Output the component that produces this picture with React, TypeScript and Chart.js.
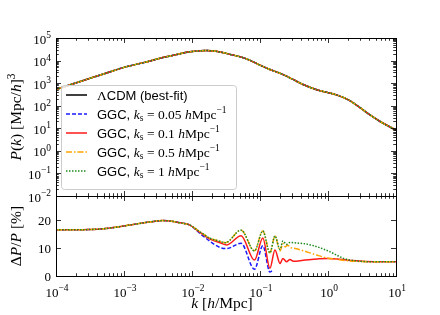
import React, { useEffect, useRef } from "react";
import { Chart, registerables } from "chart.js";
Chart.register(...registerables);

// ---------- data ----------
// Top panel: power spectrum P(k) [ (Mpc/h)^3 ]
const kTop = [1e-4, 2e-4, 5e-4, 1e-3, 2e-3, 3.5e-3, 5e-3, 7.4e-3, 0.01, 0.0166, 0.026, 0.04, 0.05, 0.07, 0.1, 0.14, 0.2, 0.3, 0.43, 0.7, 1.0, 1.36, 2, 3, 4.15, 6, 10];
const pLCDM = [520, 1050, 2550, 5000, 8300, 13000, 16500, 21600, 25000, 28000, 24000, 17500, 15000, 10500, 6300, 4000, 2700, 1500, 870, 500, 380, 295, 180, 80, 39, 19, 8.3];

// Bottom panel: Delta P / P [%]
const kCommon = [1e-4, 2e-4, 3e-4, 5e-4, 8e-4, 1.2e-3, 1.8e-3, 2.5e-3, 3.7e-3, 5e-3, 6.7e-3, 9.3e-3];
const dCommon = [16.5, 16.5, 16.6, 16.9, 17.5, 18.2, 18.9, 19.4, 19.8, 19.6, 19.0, 18.2];

const kBlue = [0.0131, 0.0184, 0.0258, 0.0325, 0.0526, 0.083, 0.11, 0.14, 0.15];
const dBlue = [15.2, 12.4, 10.2, 9.8, 11.7, 2.4, 10.8, 1.4, 1.8];

const kRed = [0.0131, 0.0184, 0.0258, 0.0325, 0.0526, 0.083, 0.11, 0.14, 0.166, 0.197, 0.217, 0.245, 0.276, 0.31, 0.43, 0.7, 1.0, 1.5, 2.3, 3.5, 10];
const dRed = [15.6, 13.2, 11.9, 11.1, 14.4, 5.7, 13.6, 2.8, 9.3, 4.5, 6.3, 5.1, 5.9, 5.3, 5.6, 6.1, 6.3, 6.0, 5.5, 5.2, 5.1];

const kOrange = [0.0131, 0.0184, 0.0258, 0.031, 0.0526, 0.083, 0.11, 0.14, 0.166, 0.197, 0.217, 0.235, 0.255, 0.28, 0.33, 0.48, 0.68, 0.95, 1.33, 1.87, 2.9, 4, 10];
const dOrange = [15.8, 13.5, 12.4, 11.9, 16.4, 9.0, 16.1, 8.3, 14.3, 9.0, 11.6, 10.4, 11.0, 10.2, 9.8, 8.7, 7.5, 6.5, 6.0, 5.5, 5.2, 5.1, 5.1];

const kGreen = [0.0131, 0.0184, 0.0258, 0.031, 0.0526, 0.083, 0.11, 0.14, 0.166, 0.197, 0.217, 0.245, 0.276, 0.31, 0.43, 0.6, 0.8, 1.06, 1.33, 1.65, 2.0, 2.9, 4, 10];
const dGreen = [15.8, 13.5, 12.4, 11.9, 16.4, 9.0, 16.1, 8.3, 14.3, 9.5, 12.5, 11.3, 12.0, 11.9, 11.6, 10.9, 9.9, 8.7, 7.5, 6.4, 5.8, 5.3, 5.1, 5.1];

const ksValues = ["0.05", "0.1", "0.5", "1"];

// ticks
const xMajor = [1e-4, 1e-3, 1e-2, 1e-1, 1, 10];
const xExp = ["\u22124", "\u22123", "\u22122", "\u22121", "0", "1"];
const yTopMajor = [1e-2, 1e-1, 1, 10, 100, 1e3, 1e4, 1e5];
const yTopExp = ["\u22122", "\u22121", "0", "1", "2", "3", "4", "5"];
const yBotTicks = [0, 10, 20];
const yBotMax = 28.6;

// ---------- helpers ----------
const SERIF = "'Liberation Serif', 'DejaVu Serif', serif";
const SANS = "'Liberation Sans', Arial, sans-serif";

type Seg = { t: string; f: string; dy?: number };

function drawRich(ctx: CanvasRenderingContext2D, segs: Seg[], x: number, y: number, align: "left" | "center" | "right") {
  let w = 0;
  for (const s of segs) { ctx.font = s.f; w += ctx.measureText(s.t).width; }
  let cx = align === "left" ? x : align === "center" ? x - w / 2 : x - w;
  ctx.textAlign = "left";
  ctx.textBaseline = "alphabetic";
  for (const s of segs) {
    ctx.font = s.f;
    ctx.fillText(s.t, cx, y + (s.dy || 0));
    cx += ctx.measureText(s.t).width;
  }
}

const pts = (ks: number[], vs: number[]) => ks.map((k, i) => ({ x: k, y: vs[i] }));

const COLORS = { lcdm: "#000000", blue: "#1a1aff", red: "#ff1a1a", orange: "#ffa500", green: "#1e8a1e" };
const DASH = { lcdm: [] as number[], blue: [4, 2], red: [] as number[], orange: [6, 2, 1.5, 2], green: [1.5, 1.5] };

function minorTicks(majors: number[], max: number) {
  const out: number[] = [];
  for (const d of majors) for (let m = 2; m <= 9; m++) { const v = d * m; if (v < max) out.push(v); }
  return out;
}

const decorPlugin = {
  id: "decor",
  afterDatasetsDraw(chart: any) {
    const ctx: CanvasRenderingContext2D = chart.ctx;
    // legend box
    ctx.save();
    const bx = 61.5, by = 85.5, bw = 175, bh = 104, r = 3;
    ctx.beginPath();
    ctx.moveTo(bx + r, by);
    ctx.lineTo(bx + bw - r, by);
    ctx.arcTo(bx + bw, by, bx + bw, by + r, r);
    ctx.lineTo(bx + bw, by + bh - r);
    ctx.arcTo(bx + bw, by + bh, bx + bw - r, by + bh, r);
    ctx.lineTo(bx + r, by + bh);
    ctx.arcTo(bx, by + bh, bx, by + bh - r, r);
    ctx.lineTo(bx, by + r);
    ctx.arcTo(bx, by, bx + r, by, r);
    ctx.closePath();
    ctx.fillStyle = "rgba(255,255,255,0.8)";
    ctx.fill();
    ctx.strokeStyle = "#cccccc";
    ctx.lineWidth = 1;
    ctx.stroke();

    const keys = ["lcdm", "blue", "red", "orange", "green"] as const;
    const fs = 13;
    for (let i = 0; i < keys.length; i++) {
      const yy = 95 + 19 * i;
      ctx.beginPath();
      ctx.setLineDash(DASH[keys[i]]);
      ctx.strokeStyle = (COLORS as any)[keys[i]];
      ctx.lineWidth = 1.5;
      ctx.moveTo(66, yy);
      ctx.lineTo(87, yy);
      ctx.stroke();
      ctx.setLineDash([]);
      ctx.fillStyle = "#000";
      const base = yy + 4.5;
      let segs: Seg[];
      if (i === 0) {
        segs = [
          { t: "\u039B", f: `${fs + 0.5}px ${SERIF}` },
          { t: "CDM (best-fit)", f: `${fs}px ${SANS}` },
        ];
      } else {
        segs = [
          { t: "GGC, ", f: `${fs}px ${SANS}` },
          { t: "k", f: `italic ${fs + 0.5}px ${SERIF}` },
          { t: "s", f: `${fs - 3.5}px ${SERIF}`, dy: 2.5 },
          { t: " = " + ksValues[i - 1] + " ", f: `${fs + 0.5}px ${SERIF}` },
          { t: "h", f: `italic ${fs + 0.5}px ${SERIF}` },
          { t: "Mpc", f: `${fs + 0.5}px ${SERIF}` },
          { t: "\u22121", f: `${fs - 3.5}px ${SERIF}`, dy: -5.5 },
        ];
      }
      drawRich(ctx, segs, 97, base, "left");
    }
    ctx.restore();
  },
  afterDraw(chart: any) {
    const ctx: CanvasRenderingContext2D = chart.ctx;
    const xs = chart.scales.x, yt = chart.scales.y, yb = chart.scales.y2;
    const L = xs.left, R = xs.right;
    const T1 = yt.top, B1 = yt.bottom, T2 = yb.top, B2 = yb.bottom;
    ctx.save();
    ctx.strokeStyle = "#000";
    ctx.lineWidth = 1;
    // frames
    ctx.strokeRect(Math.round(L) + 0.5, Math.round(T1) + 0.5, Math.round(R - L), Math.round(B1 - T1));
    ctx.strokeRect(Math.round(L) + 0.5, Math.round(T2) + 0.5, Math.round(R - L), Math.round(B2 - T2));

    const MAJ = 5, MIN = 2.8;
    const vline = (x: number, y0: number, y1: number) => { ctx.beginPath(); ctx.moveTo(Math.round(x) + 0.5, y0); ctx.lineTo(Math.round(x) + 0.5, y1); ctx.stroke(); };
    const hline = (y: number, x0: number, x1: number) => { ctx.beginPath(); ctx.moveTo(x0, Math.round(y) + 0.5); ctx.lineTo(x1, Math.round(y) + 0.5); ctx.stroke(); };

    // x ticks on all four horizontal edges
    const xMin = minorTicks(xMajor, 10);
    const edges: [number, number][] = [[T1, 1], [B1, -1], [T2, 1], [B2, -1]];
    ctx.lineWidth = 0.8;
    for (const [ey, dir] of edges) {
      for (const v of xMajor) vline(xs.getPixelForValue(v), ey, ey + dir * MAJ);
      for (const v of xMin) vline(xs.getPixelForValue(v), ey, ey + dir * MIN);
    }
    // top-panel y ticks
    const yMin = minorTicks(yTopMajor, 1e5);
    for (const v of yTopMajor) { const p = yt.getPixelForValue(v); hline(p, L, L + MAJ); hline(p, R, R - MAJ); }
    for (const v of yMin) { const p = yt.getPixelForValue(v); hline(p, L, L + MIN); hline(p, R, R - MIN); }
    // bottom-panel y ticks
    for (const v of yBotTicks) { const p = yb.getPixelForValue(v); hline(p, L, L + MAJ); hline(p, R, R - MAJ); }

    // tick labels
    ctx.fillStyle = "#000";
    const fsT = 13;
    xMajor.forEach((v, i) => {
      drawRich(ctx, [
        { t: "10", f: `${fsT}px ${SERIF}` },
        { t: xExp[i], f: `${fsT - 3.5}px ${SERIF}`, dy: -5.5 },
      ], xs.getPixelForValue(v) + 1, 296.5, "center");
    });
    yTopMajor.forEach((v, i) => {
      drawRich(ctx, [
        { t: "10", f: `${fsT}px ${SERIF}` },
        { t: yTopExp[i], f: `${fsT - 3.5}px ${SERIF}`, dy: -5.5 },
      ], L - 5, yt.getPixelForValue(v) + 5.5, "right");
    });
    yBotTicks.forEach((v) => {
      drawRich(ctx, [{ t: String(v), f: `${fsT}px ${SERIF}` }], L - 5, yb.getPixelForValue(v) + 4.5, "right");
    });

    // axis titles
    const fsA = 15.5;
    drawRich(ctx, [
      { t: "k", f: `italic ${fsA}px ${SERIF}` },
      { t: " [", f: `${fsA}px ${SERIF}` },
      { t: "h", f: `italic ${fsA}px ${SERIF}` },
      { t: "/Mpc]", f: `${fsA}px ${SERIF}` },
    ], (L + R) / 2 - 4, 307.5, "center");

    ctx.save();
    ctx.translate(21, (T1 + B1) / 2);
    ctx.rotate(-Math.PI / 2);
    drawRich(ctx, [
      { t: "P", f: `italic ${fsA}px ${SERIF}` },
      { t: "(", f: `${fsA}px ${SERIF}` },
      { t: "k", f: `italic ${fsA}px ${SERIF}` },
      { t: ") [Mpc/", f: `${fsA}px ${SERIF}` },
      { t: "h", f: `italic ${fsA}px ${SERIF}` },
      { t: "]", f: `${fsA}px ${SERIF}` },
      { t: "3", f: `${fsA - 4}px ${SERIF}`, dy: -6.5 },
    ], 0, 0, "center");
    ctx.restore();

    ctx.save();
    ctx.translate(21, (T2 + B2) / 2);
    ctx.rotate(-Math.PI / 2);
    drawRich(ctx, [
      { t: "\u0394", f: `${fsA}px ${SERIF}` },
      { t: "P", f: `italic ${fsA}px ${SERIF}` },
      { t: "/", f: `${fsA}px ${SERIF}` },
      { t: "P", f: `italic ${fsA}px ${SERIF}` },
      { t: " [%]", f: `${fsA}px ${SERIF}` },
    ], 0, 0, "center");
    ctx.restore();

    ctx.restore();
  },
};

export default function App() {
  const ref = useRef<HTMLCanvasElement | null>(null);
  useEffect(() => {
    document.body.style.margin = "0";
    const canvas = ref.current!;
    const ds = (label: string, key: keyof typeof COLORS, data: any[], axis: string, order: number) => ({
      label,
      data,
      yAxisID: axis,
      borderColor: COLORS[key],
      backgroundColor: COLORS[key],
      borderDash: DASH[key],
      borderWidth: 1.5,
      pointRadius: 0,
      fill: false,
      cubicInterpolationMode: "monotone" as const,
      order,
    });
    const topL = pts(kTop, pLCDM);
    const chart = new Chart(canvas, {
      type: "line",
      data: {
        datasets: [
          ds("LCDM", "lcdm", topL, "y", 9),
          ds("GGC 0.05", "blue", topL, "y", 8),
          ds("GGC 0.1", "red", topL, "y", 7),
          ds("GGC 0.5", "orange", topL, "y", 6),
          ds("GGC 1", "green", topL, "y", 5),
          ds("dB", "blue", pts(kCommon.concat(kBlue), dCommon.concat(dBlue)), "y2", 3),
          ds("dR", "red", pts(kCommon.concat(kRed), dCommon.concat(dRed)), "y2", 2),
          ds("dO", "orange", pts(kCommon.concat(kOrange), dCommon.concat(dOrange)), "y2", 1),
          ds("dG", "green", pts(kCommon.concat(kGreen), dCommon.concat(dGreen)), "y2", 0),
        ],
      },
      options: {
        animation: false,
        responsive: false,
        devicePixelRatio: 1,
        parsing: true,
        layout: { padding: { top: 38, right: 44, left: 0, bottom: 0 } },
        plugins: { legend: { display: false }, tooltip: { enabled: false } },
        scales: {
          x: {
            type: "logarithmic",
            min: 1e-4,
            max: 10,
            position: "bottom",
            ticks: { display: false },
            grid: { display: false },
            border: { display: false },
            afterFit: (s: any) => { s.height = 39; },
          },
          y2: {
            type: "linear",
            min: 0,
            max: yBotMax,
            position: "left",
            stack: "v",
            stackWeight: 80,
            ticks: { display: false },
            grid: { display: false },
            border: { display: false },
            afterFit: (s: any) => { s.width = 56; },
          },
          y: {
            type: "logarithmic",
            min: 1e-2,
            max: 1e5,
            position: "left",
            stack: "v",
            stackWeight: 158,
            ticks: { display: false },
            grid: { display: false },
            border: { display: false },
            afterFit: (s: any) => { s.width = 56; },
          },
        },
      } as any,
      plugins: [decorPlugin],
    });
    return () => chart.destroy();
  }, []);
  return <canvas ref={ref} width={440} height={315} style={{ display: "block", width: 440, height: 315 }} />;
}
